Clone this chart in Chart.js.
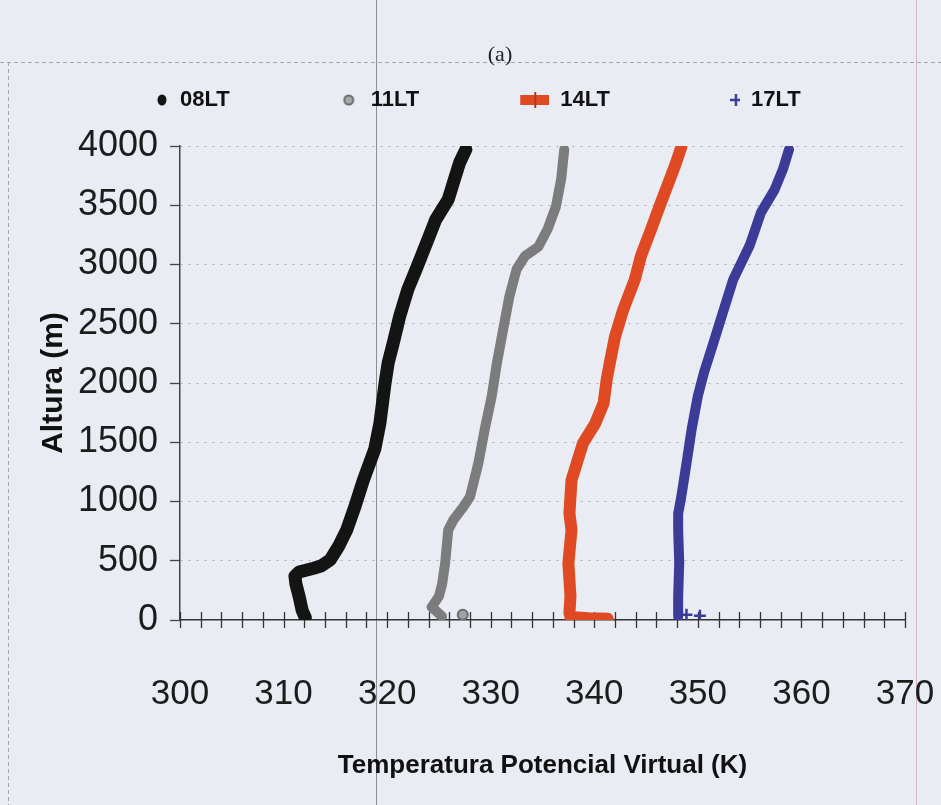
<!DOCTYPE html>
<html>
<head>
<meta charset="utf-8">
<script src="https://cdn.jsdelivr.net/npm/chart.js@4.4.1/dist/chart.umd.min.js"></script>
<style>
  html, body { margin: 0; padding: 0; background: #eaecf4; }
  #wrap { width: 941px; height: 805px; position: relative; }
</style>
</head>
<body>
<div id="wrap"><canvas id="c"></canvas></div>
<script>
// ---------------- data ----------------
const seriesLabels = ['08LT', '11LT', '14LT', '17LT'];
const panelLabel = '(a)';
const xTitle = 'Temperatura Potencial Virtual (K)';
const yTitle = 'Altura (m)';
const xMin = 300, xMax = 370, xStep = 2, xLabelEvery = 10;
const yMin = 0, yMax = 4000, yStep = 500;

// 08LT : virtual potential temperature (K) and height (m)
const t08 = [312.1, 311.8, 311.5, 311.2, 311.1, 311.5, 312.9, 313.6, 314.5, 315.3, 316.1, 316.9, 317.7, 318.8, 319.3, 319.8, 320.1, 320.6, 321.2, 322.0, 322.8, 323.8, 324.7, 325.9, 326.5, 327.0, 327.6];
const h08 = [20,    80,    200,   300,   370,   405,   437,   455,   507,   620,   760,   960,   1180,  1440,  1660,  2000,  2170,  2340,  2560,  2790,  2960,  3180,  3380,  3550,  3720,  3860,  3970];

// 11LT profile and its isolated surface point
const t11 = [325.3, 324.3, 325.0, 325.3, 325.6, 325.9, 326.4, 327.4, 328.0, 328.8, 329.4, 330.1, 330.6, 331.2, 331.8, 332.5, 333.3, 334.6, 335.5, 336.3, 336.8, 337.1];
const h11 = [30,    110,   200,   300,   480,   760,   845,   960,   1040,  1320,  1600,  1890,  2170,  2450,  2730,  2960,  3070,  3150,  3300,  3490,  3720,  3970];
const t11sfc = [327.3];
const h11sfc = [45];

// 14LT
const t14 = [341.3, 339.5, 337.7, 337.6, 337.7, 337.5, 337.8, 337.6, 337.7, 337.8, 338.3, 338.9, 340.1, 340.9, 341.2, 341.5, 342.0, 342.8, 343.9, 344.5, 345.5, 346.3, 347.3, 347.9, 348.4];
const h14 = [10,    15,    25,    60,    200,   480,   760,   900,   1040,  1180,  1320,  1490,  1660,  1830,  2030,  2170,  2390,  2620,  2870,  3070,  3300,  3490,  3720,  3860,  3990];

// 17LT profile and its isolated surface points
const t17 = [348.1, 348.1, 348.2, 348.1, 348.1, 348.4, 348.9, 349.4, 350.0, 350.6, 351.4, 352.4, 353.4, 355.0, 356.1, 357.4, 358.2, 358.8];
const h17 = [30,    200,   480,   760,   900,   1040,  1320,  1610,  1890,  2090,  2310,  2590,  2870,  3160,  3440,  3630,  3800,  3970];
const t17sfc = [348.9, 350.2];
const h17sfc = [45,    35];

// ---------------- styling ----------------
const BG = '#eaecf4';
const FONT = "'Liberation Sans', Arial, sans-serif";
const colors = { c08: '#141414', c11: '#7c7c7e', c14: '#df4a22', c17: '#3b3c98' };

function pts(t, h) {
  return h.map((y, i) => ({ x: t[i], y: y }));
}

// legend marker images (transparent on the left, marker near the right end)
function legendImg(kind) {
  const c = document.createElement('canvas');
  c.width = 120; c.height = 24;
  const g = c.getContext('2d');
  const cy = 12;
  if (kind === 'dot') {
    g.fillStyle = colors.c08;
    g.beginPath(); g.ellipse(113, cy, 4.5, 5.5, 0, 0, Math.PI * 2); g.fill();
  } else if (kind === 'ring') {
    g.fillStyle = '#a8a8aa'; g.strokeStyle = '#6e6e70'; g.lineWidth = 2;
    g.beginPath(); g.arc(109, cy, 4.5, 0, Math.PI * 2); g.fill(); g.stroke();
  } else if (kind === 'bar') {
    g.fillStyle = colors.c14;
    g.fillRect(91, cy - 5, 29, 10);
    g.strokeStyle = '#b23a18'; g.lineWidth = 2;
    g.beginPath(); g.moveTo(106, cy - 8); g.lineTo(106, cy + 8); g.stroke();
  } else if (kind === 'plus') {
    g.strokeStyle = colors.c17; g.lineWidth = 2.5;
    g.beginPath(); g.moveTo(116, cy - 6); g.lineTo(116, cy + 6); g.moveTo(110, cy); g.lineTo(120, cy); g.stroke();
  }
  return c;
}
const legendImgs = [legendImg('dot'), legendImg('ring'), legendImg('bar'), legendImg('plus')];

const decor = {
  id: 'decor',
  beforeDraw(chart) {
    const ctx = chart.ctx;
    ctx.save();
    ctx.fillStyle = BG;
    ctx.fillRect(0, 0, chart.width, chart.height);
    // scan artifacts of the source page
    ctx.strokeStyle = '#a4a4ae'; ctx.lineWidth = 1; ctx.setLineDash([4, 3]);
    ctx.beginPath(); ctx.moveTo(0, 62.5); ctx.lineTo(chart.width, 62.5); ctx.stroke();
    ctx.beginPath(); ctx.moveTo(8.5, 62); ctx.lineTo(8.5, chart.height); ctx.stroke();
    ctx.setLineDash([]);
    ctx.strokeStyle = '#8e8e9a';
    ctx.beginPath(); ctx.moveTo(376.5, 0); ctx.lineTo(376.5, chart.height); ctx.stroke();
    ctx.strokeStyle = '#d7b3c3';
    ctx.beginPath(); ctx.moveTo(916.5, 0); ctx.lineTo(916.5, chart.height); ctx.stroke();
    ctx.restore();
  },
  beforeDatasetsDraw(chart) {
    // x-axis tick marks crossing the axis line
    const ctx = chart.ctx, xs = chart.scales.x, y0 = chart.chartArea.bottom;
    ctx.save();
    ctx.strokeStyle = '#333'; ctx.lineWidth = 1.3;
    xs.ticks.forEach(t => {
      const px = Math.round(xs.getPixelForValue(t.value)) + 0.5;
      ctx.beginPath(); ctx.moveTo(px, y0 - 8); ctx.lineTo(px, y0 + 8); ctx.stroke();
    });
    ctx.restore();
  },
  afterDraw(chart) {
    const ctx = chart.ctx;
    ctx.save();
    ctx.fillStyle = '#222';
    ctx.font = "22px 'Liberation Serif', 'Times New Roman', serif";
    ctx.textAlign = 'center'; ctx.textBaseline = 'middle';
    ctx.fillText(panelLabel, 500, 55);
    ctx.restore();
  }
};

const chart = new Chart(document.getElementById('c'), {
  type: 'scatter',
  data: {
    datasets: [
      { label: seriesLabels[0], data: pts(t08, h08), showLine: true, borderColor: colors.c08, backgroundColor: colors.c08,
        borderWidth: 13, pointRadius: 0 },
      { label: seriesLabels[1], data: pts(t11, h11), showLine: true, borderColor: colors.c11, backgroundColor: '#959597',
        borderWidth: 10, pointRadius: 0 },
      { label: seriesLabels[2], data: pts(t14, h14), showLine: true, borderColor: colors.c14, backgroundColor: colors.c14,
        borderWidth: 12, pointRadius: 0 },
      { label: seriesLabels[3], data: pts(t17, h17), showLine: true, borderColor: colors.c17, backgroundColor: colors.c17,
        borderWidth: 10, pointRadius: 0 },
      { label: seriesLabels[1] + ' sfc', data: pts(t11sfc, h11sfc), showLine: false, pointStyle: 'circle',
        pointRadius: 5, pointBackgroundColor: '#a2a2a4', pointBorderColor: '#6a6a6c', pointBorderWidth: 2 },
      { label: seriesLabels[3] + ' sfc', data: pts(t17sfc, h17sfc), showLine: false, pointStyle: 'cross',
        pointRadius: 6, pointBorderColor: colors.c17, pointBorderWidth: 2.5 }
    ]
  },
  options: {
    responsive: true,
    maintainAspectRatio: false,
    animation: false,
    devicePixelRatio: 1,
    elements: { line: { tension: 0, borderJoinStyle: 'round', borderCapStyle: 'round' } },
    layout: { padding: { top: 79, left: 39, right: 36, bottom: 0 } },
    plugins: {
      tooltip: { enabled: false },
      legend: {
        display: true, position: 'top', align: 'start',
        labels: {
          usePointStyle: true, pointStyleWidth: 120, padding: 10, color: '#111',
          font: { family: FONT, size: 22, weight: 'bold' },
          generateLabels: (ch) => seriesLabels.map((lab, i) => ({
            text: lab, pointStyle: legendImgs[i], datasetIndex: i, hidden: false,
            fillStyle: 'rgba(0,0,0,0)', strokeStyle: 'rgba(0,0,0,0)', lineWidth: 0, fontColor: '#111'
          }))
        }
      },
      subtitle: { display: true, text: '', weight: 100, padding: { top: 13, bottom: 0 }, font: { size: 10 } }
    },
    scales: {
      x: {
        type: 'linear', position: 'bottom', min: xMin, max: xMax,
        afterFit: (s) => { s.height = 185; },
        ticks: {
          stepSize: xStep, autoSkip: false, maxRotation: 0, minRotation: 0, padding: 0,
          color: '#1c1c1c', font: { family: FONT, size: 35 },
          callback: (v) => (v % xLabelEvery === 0 ? String(v) : '')
        },
        grid: { drawOnChartArea: false, drawTicks: true, tickLength: 53, tickColor: 'rgba(0,0,0,0)' },
        border: { display: true, color: '#333', width: 1.5 },
        title: { display: true, text: xTitle, color: '#111', font: { family: FONT, size: 26, weight: 'bold' }, padding: { top: 0, bottom: 24 } }
      },
      y: {
        type: 'linear', min: yMin, max: yMax,
        afterFit: (s) => { s.width = 141; },
        ticks: { stepSize: yStep, padding: 12, color: '#1c1c1c', font: { family: FONT, size: 36 }, callback: (v) => String(v) },
        grid: {
          color: (c) => (c.tick && c.tick.value === yMin ? 'rgba(0,0,0,0)' : '#a9abb8'),
          lineWidth: 1, drawTicks: true, tickLength: 10, tickColor: '#444', tickWidth: 1.3
        },
        border: { display: true, color: '#444', width: 1.5, dash: [2, 6] },
        title: { display: true, text: yTitle, color: '#111', font: { family: FONT, size: 30, weight: 'bold', lineHeight: 1 }, padding: { top: 0, bottom: 0 } }
      }
    }
  },
  plugins: [decor]
});
</script>
</body>
</html>
